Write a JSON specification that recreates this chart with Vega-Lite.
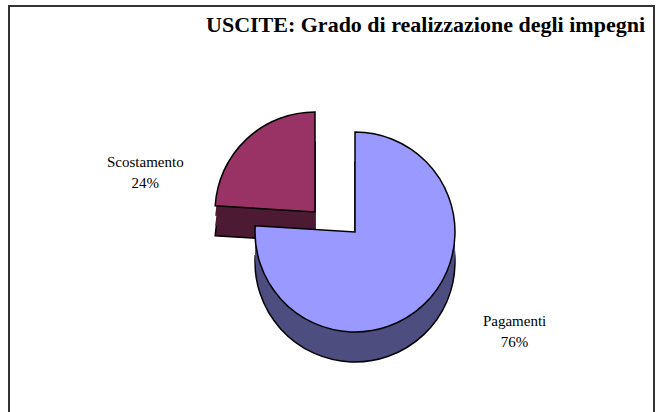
{
  "$schema": "https://vega.github.io/schema/vega-lite/v6.json",
  "width": 645,
  "height": 410,
  "autosize": "none",
  "padding": {"left": 9, "top": 6, "right": 4, "bottom": 0},
  "background": "white",
  "config": {"view": {"stroke": null}},
  "title": {
    "text": "USCITE: Grado di realizzazione degli impegni",
    "anchor": "end",
    "frame": "group",
    "orient": "top",
    "baseline": "alphabetic",
    "offset": -49,
    "dx": -9,
    "font": "Liberation Serif",
    "fontSize": 22,
    "fontWeight": "bold",
    "color": "black"
  },
  "data": {"values": [
    {"label": "Pagamenti", "value": 76, "pct": "76%"},
    {"label": "Scostamento", "value": 24, "pct": "24%"}
  ]},
  "transform": [
    {"stack": "value", "groupby": [], "sort": [{"field": "label", "order": "ascending"}], "as": ["v0", "v1"]}
  ],
  "encoding": {
    "theta": {"field": "v0", "type": "quantitative", "stack": null, "scale": {"domain": [0, 100]}},
    "theta2": {"field": "v1"}
  },
  "layer": [
    {"transform": [{"filter": "datum.label === 'Scostamento'"}],
     "mark": {"type": "arc", "outerRadius": 100, "color": "#4D1A33", "stroke": "black", "strokeWidth": 1.5, "xOffset": -16.5, "yOffset": 31}},
    {"transform": [{"filter": "datum.label === 'Scostamento'"}],
     "mark": {"type": "arc", "outerRadius": 100, "color": "#4D1A33", "xOffset": -16.5, "yOffset": 21}},
    {"transform": [{"filter": "datum.label === 'Scostamento'"}],
     "mark": {"type": "arc", "outerRadius": 100, "color": "#4D1A33", "xOffset": -16.5, "yOffset": 11}},
    {"transform": [{"filter": "datum.label === 'Scostamento'"}],
     "mark": {"type": "arc", "outerRadius": 100, "color": "#993366", "stroke": "black", "strokeWidth": 1.5, "xOffset": -16.5, "yOffset": 1}},
    {"transform": [{"filter": "datum.label === 'Pagamenti'"}],
     "mark": {"type": "arc", "outerRadius": 100, "color": "#4D4D80", "stroke": "black", "strokeWidth": 1.5, "xOffset": 23.5, "yOffset": 51}},
    {"transform": [{"filter": "datum.label === 'Pagamenti'"}],
     "mark": {"type": "arc", "outerRadius": 100, "color": "#4D4D80", "xOffset": 23.5, "yOffset": 41}},
    {"transform": [{"filter": "datum.label === 'Pagamenti'"}],
     "mark": {"type": "arc", "outerRadius": 100, "color": "#4D4D80", "xOffset": 23.5, "yOffset": 31}},
    {"transform": [{"filter": "datum.label === 'Pagamenti'"}],
     "mark": {"type": "arc", "outerRadius": 100, "color": "#9999FF", "stroke": "black", "strokeWidth": 1.5, "xOffset": 23.5, "yOffset": 21}},
    {"mark": {"type": "text", "font": "Liberation Serif", "fontSize": 15, "color": "black", "align": "center", "baseline": "middle", "radius": 188, "thetaOffset": -0.26, "xOffset": 23.5, "yOffset": 21, "dy": -10},
     "encoding": {
       "theta": {"field": "value", "type": "quantitative", "stack": true, "scale": {"domain": [0, 100]}},
       "theta2": null,
       "order": {"field": "label", "type": "ordinal"},
       "detail": {"field": "label"},
       "text": {"condition": {"test": "datum.label === 'Pagamenti'", "field": "label"}, "value": ""}
     }},
    {"mark": {"type": "text", "font": "Liberation Serif", "fontSize": 15, "color": "black", "align": "center", "baseline": "middle", "radius": 188, "thetaOffset": -0.26, "xOffset": 23.5, "yOffset": 21, "dy": 11},
     "encoding": {
       "theta": {"field": "value", "type": "quantitative", "stack": true, "scale": {"domain": [0, 100]}},
       "theta2": null,
       "order": {"field": "label", "type": "ordinal"},
       "detail": {"field": "label"},
       "text": {"condition": {"test": "datum.label === 'Pagamenti'", "field": "pct"}, "value": ""}
     }},
    {"mark": {"type": "text", "font": "Liberation Serif", "fontSize": 15, "color": "black", "align": "center", "baseline": "middle", "radius": 218, "thetaOffset": -0.54, "xOffset": 23.5, "yOffset": 21, "dy": -10},
     "encoding": {
       "theta": {"field": "value", "type": "quantitative", "stack": true, "scale": {"domain": [0, 100]}},
       "theta2": null,
       "order": {"field": "label", "type": "ordinal"},
       "detail": {"field": "label"},
       "text": {"condition": {"test": "datum.label === 'Scostamento'", "field": "label"}, "value": ""}
     }},
    {"mark": {"type": "text", "font": "Liberation Serif", "fontSize": 15, "color": "black", "align": "center", "baseline": "middle", "radius": 218, "thetaOffset": -0.54, "xOffset": 23.5, "yOffset": 21, "dy": 11},
     "encoding": {
       "theta": {"field": "value", "type": "quantitative", "stack": true, "scale": {"domain": [0, 100]}},
       "theta2": null,
       "order": {"field": "label", "type": "ordinal"},
       "detail": {"field": "label"},
       "text": {"condition": {"test": "datum.label === 'Scostamento'", "field": "pct"}, "value": ""}
     }},
    {"data": {"values": [{}]},
     "transform": [],
     "mark": {"type": "rect", "fillOpacity": 0, "stroke": "#333333", "strokeWidth": 2},
     "encoding": {"theta": null, "theta2": null}}
  ]
}
